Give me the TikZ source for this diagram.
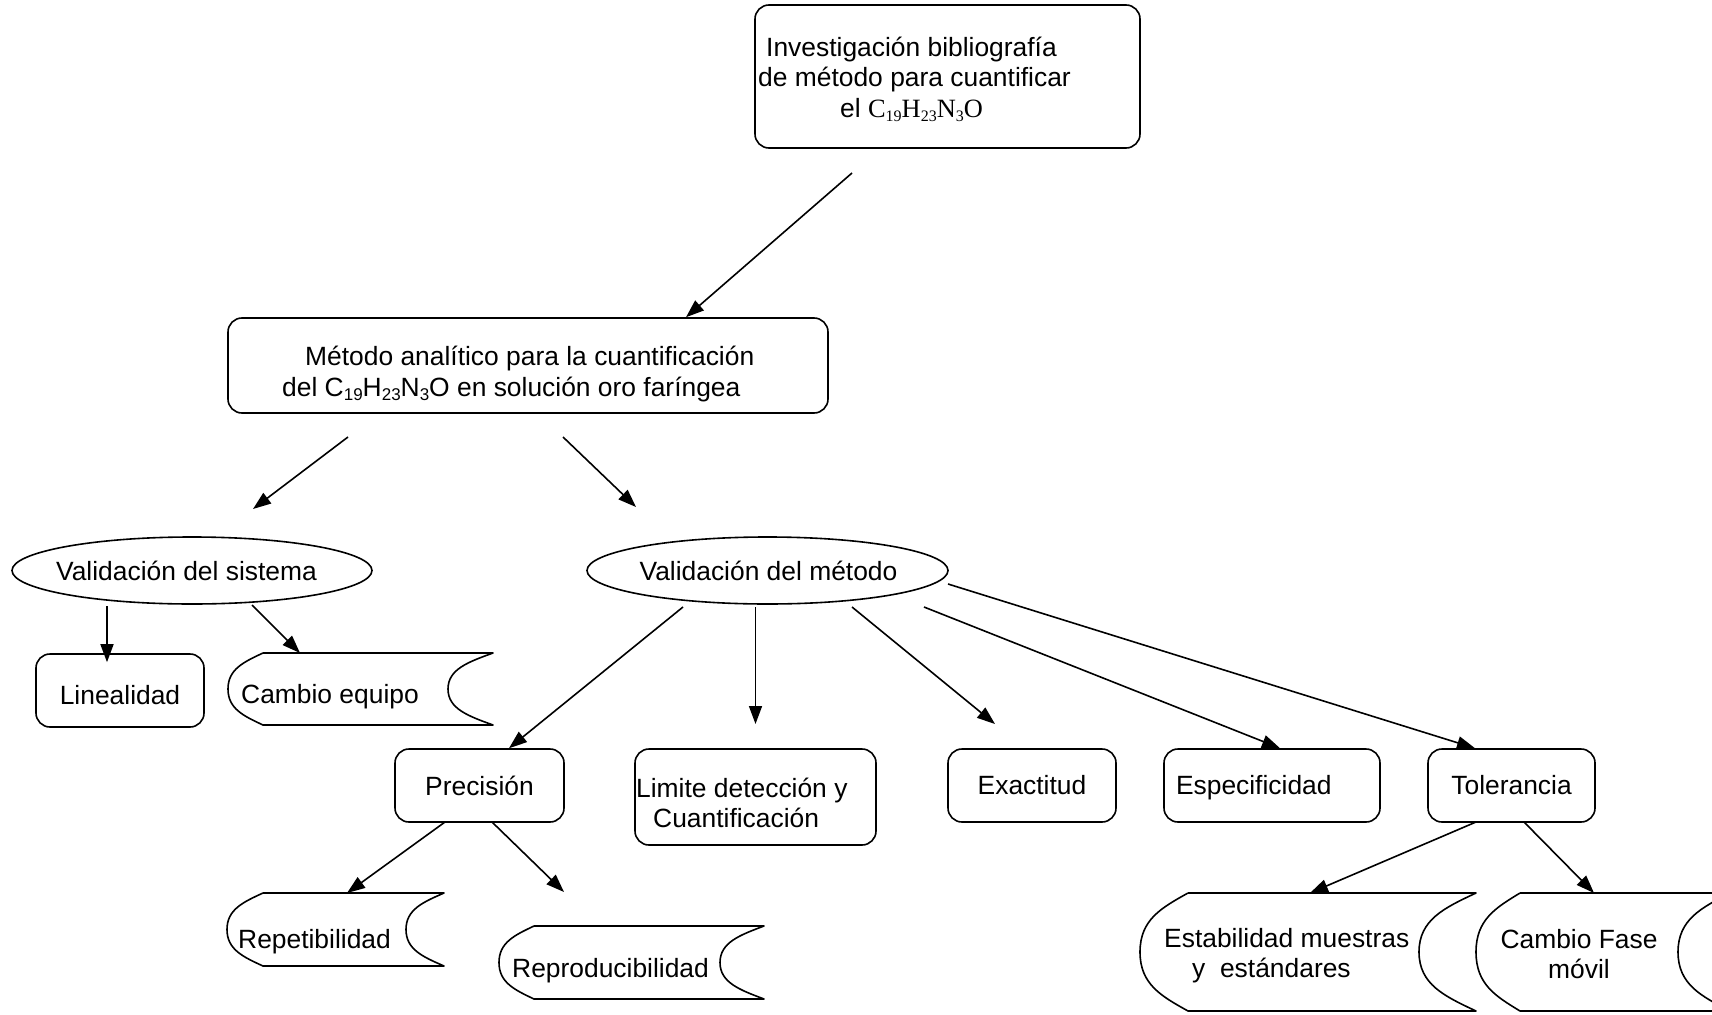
\documentclass[tikz,border=0pt]{standalone}
\usepackage{fontspec}
\setmainfont{Liberation Sans}
\newfontfamily\timesf{Liberation Serif}
\usetikzlibrary{arrows.meta,shapes.geometric}
\newcommand\ssub[1]{\raisebox{-4.5pt}{\fontsize{17}{17}\selectfont #1}}
\newcommand\tsub[1]{\raisebox{-4pt}{\fontsize{16}{16}\selectfont #1}}
\newcommand\storedshape[6]{% xl, yt, xr, yb, a (left bulge), b (right hollow)
  \pgfmathsetmacro\sdym{(#2+#4)/2}%
  \pgfmathsetmacro\sdyh{(#4-#2)/2}%
  \pgfmathsetmacro\sdxa{#1+#5}%
  \pgfmathsetmacro\sdxb{#3-#6}%
  \pgfmathsetmacro\sdka{0.55*#5}%
  \pgfmathsetmacro\sdkb{0.55*#6}%
  \pgfmathsetmacro\sdky{0.55*\sdyh}%
  \pgfmathsetmacro\sdkt{0.25*\sdyh}%
  \draw[line width=1.6pt,line join=round]
    (\sdxa,#2) -- (#3,#2)
    .. controls (#3-\sdkb,#2+\sdkt) and (\sdxb,\sdym-\sdky) .. (\sdxb,\sdym)
    .. controls (\sdxb,\sdym+\sdky) and (#3-\sdkb,#4-\sdkt) .. (#3,#4)
    -- (\sdxa,#4)
    .. controls (\sdxa-\sdka,#4-\sdkt) and (#1,\sdym+\sdky) .. (#1,\sdym)
    .. controls (#1,\sdym-\sdky) and (\sdxa-\sdka,#2+\sdkt) .. (\sdxa,#2);
}
\begin{document}
\begin{tikzpicture}[x=1pt,y=-1pt,
  every node/.style={font=\fontsize{26.4}{30.5}\selectfont},
  arr/.style={line width=1.6pt,-{Triangle[length=18pt,width=13pt]}},
  rbox/.style={draw,line width=1.6pt,rounded corners=14pt,inner sep=0pt},
  ell/.style={draw,ellipse,line width=1.6pt,inner sep=0pt},
  txt/.style={inner sep=0pt,align=left}
]
\fill[white] (0,0) rectangle (1712,1014);
\clip (0,0) rectangle (1712,1014);

% top box
\node[rbox,minimum width=385pt,minimum height=143pt] (top) at (947.5,76.5) {};
\node[txt,anchor=west] (toptxt) at (758,79) {\hspace*{8pt}Investigación bibliografía\\de método para cuantificar\\\hspace*{82pt}el {\timesf C\tsub{19}H\tsub{23}N\tsub{3}O}};

% method box
\node[rbox,minimum width=600pt,minimum height=95pt] (meth) at (528,365.5) {};
\node[txt,anchor=west] (methtxt) at (282,374) {\hspace*{23pt}Método analítico para la cuantificación\\del C\ssub{19}H\ssub{23}N\ssub{3}O en solución oro faríngea};

% ellipses
\node[ell,minimum width=360pt,minimum height=67pt] (e1) at (192,570.5) {};
\node[txt] (e1t) at (186.5,571) {Validación del sistema};
\node[ell,minimum width=361pt,minimum height=67pt] (e2) at (767.5,570.5) {};
\node[txt] (e2t) at (768.5,571) {Validación del método};

% boxes
\node[rbox,minimum width=168pt,minimum height=73pt,text height=28pt] (lin) at (120,690.5) {Linealidad};
\node[rbox,minimum width=169pt,minimum height=73pt] (prec) at (479.5,785.5) {Precisión};
\node[rbox,minimum width=241pt,minimum height=96pt] (lim) at (755.5,797) {};
\node[txt,anchor=west] (limt) at (636,803) {Limite detección y\\\hspace*{17pt}Cuantificación};
\node[rbox,minimum width=168pt,minimum height=73pt] (exa) at (1032,785.5) {Exactitud};
\node[rbox,minimum width=216pt,minimum height=73pt,text width=192pt,inner xsep=12pt,align=left,text height=23pt] (esp) at (1272,785.5) {Especificidad};
\node[rbox,minimum width=167pt,minimum height=73pt] (tol) at (1511.5,785.5) {Tolerancia};

% stored-data shapes
\storedshape{228}{653}{493}{725}{35}{45}
\node[txt,anchor=west] (ceq) at (241,697) {Cambio equipo};
\storedshape{227}{893}{444}{966}{36}{38}
\node[txt,anchor=west] (rep) at (238,942) {Repetibilidad};
\storedshape{499}{926}{764}{999}{35}{44}
\node[txt,anchor=west] (repro) at (512,971) {Reproducibilidad};
\storedshape{1140}{893}{1476}{1011}{48}{57}
\node[txt,anchor=west] (est) at (1164,955.5) {Estabilidad muestras\\\hspace*{28pt}y\ \ estándares};
\storedshape{1476}{893}{1730}{1011}{44}{52}
\node[txt,align=center] (cfm) at (1579,954) {Cambio Fase\\móvil};

% connector ends
\coordinate (c1) at (852,173);
\coordinate (c2a) at (348,437);
\coordinate (c2b) at (253,509);
\coordinate (c3a) at (563,437);
\coordinate (c3b) at (636,507);
\coordinate (c4) at (107,606);
\coordinate (c5a) at (252,605);
\coordinate (c5b) at (300,653);
\coordinate (c6) at (683,607);
\coordinate (c7a) at (755.5,607);
\coordinate (c7b) at (755.5,724);
\coordinate (c8a) at (852,607);
\coordinate (c8b) at (995,724);
\coordinate (c9) at (924,607);
\coordinate (c10) at (948,584);
\coordinate (c11a) at (445,822);
\coordinate (c11b) at (347,893);
\coordinate (c12a) at (492,822);
\coordinate (c12b) at (564,892);
\coordinate (c13a) at (1476,822);
\coordinate (c13b) at (1310,893);
\coordinate (c14a) at (1524,822);
\coordinate (c14b) at (1594,893);

% connectors
\draw[arr] (c1) -- ([xshift=158pt]meth.north);
\draw[arr] (c2a) -- (c2b);
\draw[arr] (c3a) -- (c3b);
\draw[arr] (c4) -- ([xshift=-13pt,yshift=-9pt]lin.north);
\draw[arr] (c5a) -- (c5b);
\draw[arr] (c6) -- ([xshift=29.5pt]prec.north);
\draw[arr] (c7a) -- (c7b);
\draw[arr] (c8a) -- (c8b);
\draw[arr] (c9) -- ([xshift=8pt]esp.north);
\draw[arr] (c10) -- ([xshift=-36.5pt]tol.north);
\draw[arr] (c11a) -- (c11b);
\draw[arr] (c12a) -- (c12b);
\draw[arr] (c13a) -- (c13b);
\draw[arr] (c14a) -- (c14b);
\end{tikzpicture}
\end{document}
